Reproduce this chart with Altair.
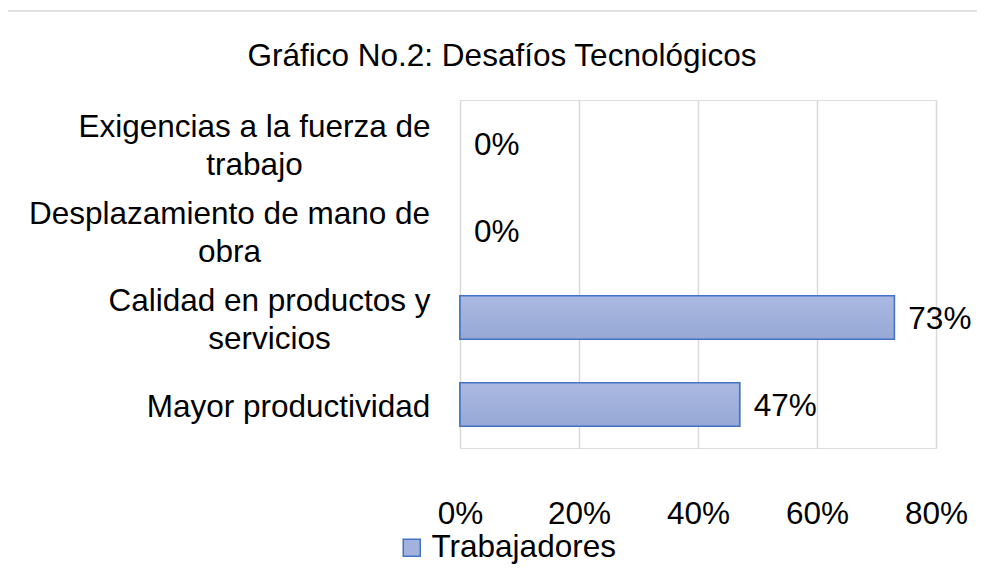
import json
import altair as alt
import pandas as pd

# ---- data ----
categories = [
    "Exigencias a la fuerza de trabajo",
    "Desplazamiento de mano de obra",
    "Calidad en productos y servicios",
    "Mayor productividad",
]
label_lines = [
    ["Exigencias a la fuerza de", "trabajo"],
    ["Desplazamiento de mano de", "obra"],
    ["Calidad en productos y", "servicios"],
    ["Mayor productividad"],
]
values = [0.0, 0.0, 0.73, 0.47]
series_name = "Trabajadores"
x_ticks = [0.0, 0.2, 0.4, 0.6, 0.8]
title_text = "Gráfico No.2: Desafíos Tecnológicos"

df = pd.DataFrame({"categoria": categories, "valor": values, "serie": series_name})

# ---- styling ----
FONT = "Liberation Sans"
FS = 31.5
LH = 38
GRID = "#d9d9d9"
EDGE = "#4472c4"

# label centres (distance from the axis) so wrapped lines are centred like the reference
label_pad = {
    categories[0]: 206,
    categories[1]: 231,
    categories[2]: 191,
    categories[3]: 172,
}

label_expr = ""
for c, lines in zip(categories, label_lines):
    label_expr += f"datum.value == {json.dumps(c)} ? {json.dumps(lines)} : "
label_expr += "datum.label"

pad_cond = {
    "condition": [
        {"test": f"datum.value == {json.dumps(c)}", "value": p} for c, p in label_pad.items()
    ],
    "value": 172,
}

offset_cond = {
    "condition": [
        {"test": f"datum.value == {json.dumps(c)}", "value": -(len(lines) - 1) * LH / 2 + 3}
        for c, lines in zip(categories, label_lines)
    ],
    "value": 0,
}

y_enc = alt.Y(
    "categoria:N",
    sort=categories,
    scale=alt.Scale(paddingInner=0.5, paddingOuter=0.25),
    axis=alt.Axis(
        title=None,
        domain=False,
        ticks=False,
        tickSize=0,
        grid=False,
        labelExpr=label_expr,
        labelAlign="center",
        labelBaseline="middle",
        labelPadding=pad_cond,
        labelOffset=offset_cond,
        labelLineHeight=LH,
        labelFont=FONT,
        labelFontSize=FS,
        labelColor="#000000",
        labelLimit=600,
    ),
)

x_enc = alt.X(
    "valor:Q",
    scale=alt.Scale(domain=[0, 0.8], nice=False, zero=True),
    axis=alt.Axis(
        title=None,
        values=x_ticks,
        format=".0%",
        domain=False,
        ticks=False,
        tickSize=0,
        grid=True,
        gridColor=GRID,
        gridWidth=1.5,
        labelPadding=50,
        labelFont=FONT,
        labelFontSize=FS,
        labelColor="#000000",
        labelFlush=False,
    ),
)

base = alt.Chart(df)

bars_legend = base.transform_filter("datum.valor > 0").mark_bar(
    stroke=EDGE, strokeWidth=1.5
).encode(
    x=x_enc,
    y=y_enc,
    color=alt.Color(
        "serie:N",
        scale=alt.Scale(domain=[series_name], range=["#a3b2dc"]),
        title=None,
        legend=alt.Legend(
            orient="none",
            legendX=-64,
            legendY=432,
            symbolType="square",
            symbolSize=289,
            symbolStrokeColor=EDGE,
            symbolStrokeWidth=1.5,
            labelFont=FONT,
            labelFontSize=FS,
            labelColor="#000000",
            labelOffset=4,
            labelLimit=500,
        ),
    ),
)

gradient = alt.LinearGradient(
    gradient="linear",
    stops=[
        alt.GradientStop(offset=0, color="#abb9e1"),
        alt.GradientStop(offset=1, color="#97a8d6"),
    ],
    x1=0, x2=0, y1=0, y2=1,
)

bars = base.transform_filter("datum.valor > 0").mark_bar(
    fill=gradient, stroke=EDGE, strokeWidth=1.5
).encode(x="valor:Q", y=alt.Y("categoria:N", sort=categories))

labels = base.mark_text(
    align="left", baseline="middle", dx=14, dy=2, font=FONT, fontSize=FS, color="#000000"
).encode(
    x="valor:Q",
    y=alt.Y("categoria:N", sort=categories),
    text=alt.Text("valor:Q", format=".0%"),
)

frame = alt.Chart(alt.Data(values=[{"f": 1}])).mark_rect(
    fill="transparent", stroke=GRID, strokeWidth=1.5
).encode(
    x=alt.value(-453), x2=alt.value(1200), y=alt.value(-89), y2=alt.value(1200)
)

chart = alt.layer(frame, bars_legend, bars, labels).properties(
    width=476,
    height=348,
    padding={"left": 452, "top": 92, "right": 41, "bottom": 120},
    autosize=alt.AutoSizeParams(type="none"),
    title=alt.TitleParams(
        text=title_text,
        font=FONT,
        fontSize=FS,
        fontWeight="normal",
        color="#000000",
        anchor="middle",
        dx=-196,
        offset=-62,
    ),
).configure_view(stroke=None).configure(background="white")

chart.save("out.html", embed_options={"renderer": "svg", "actions": False})
